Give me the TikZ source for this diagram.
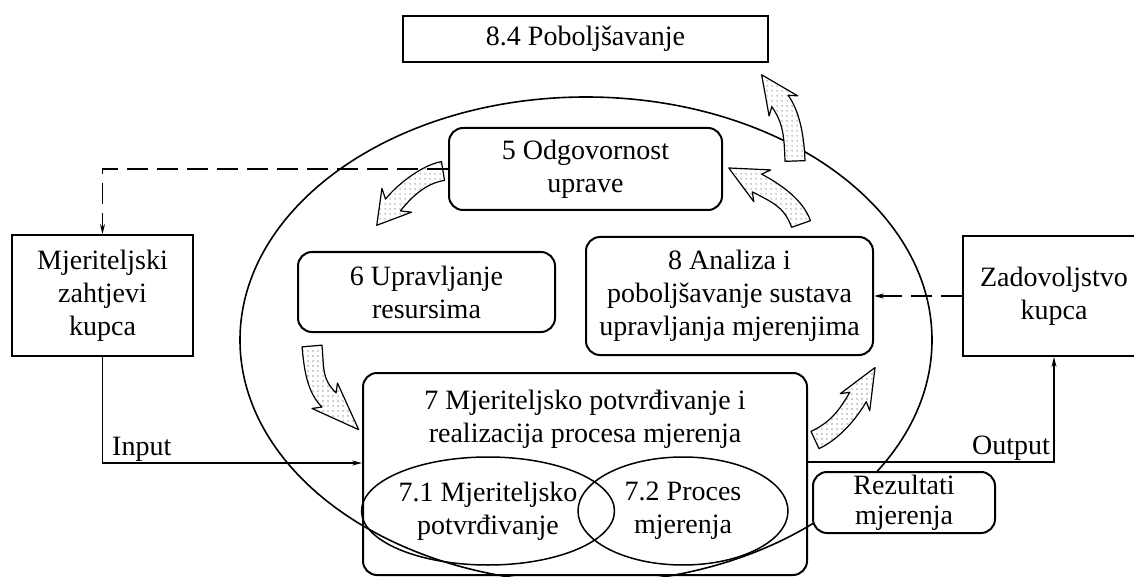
\documentclass[tikz,border=0pt]{standalone}
\usepackage{fontspec}
\setmainfont{Liberation Serif}
\usetikzlibrary{calc,patterns.meta,shapes.geometric,arrows.meta}
\tikzdeclarepattern{
  name=sparsedots,
  type=uncolored,
  bottom left={(0pt,0pt)},
  top right={(4.5pt,4.5pt)},
  tile size={(4.5pt,4.5pt)},
  code={\fill (2.25pt,2.25pt) circle (0.65pt);}
}
\newcommand\arrsweep{6}
% #1 tail centre, #2 tail angle, #3 tail ctrl, #4 head base, #5 head angle, #6 head ctrl,
% #7 body half width, #8 head half width, #9 head length
\newcommand\blkarrow[9]{%
\draw[blockarrow]
 ($#1+(#2+90:#7)$) .. controls ($#1+(#2:#3)+(#2+90:#7)$) and ($#4+(#5+180:#6)+(#5+90:#7)$) .. ($#4+(#5+90:#7)$)
 -- ($#4+(#5+90:#8)+(#5+180:\arrsweep)$) -- ($#4+(#5:#9)$) -- ($#4+(#5-90:#8)+(#5+180:\arrsweep)$)
 -- ($#4+(#5-90:#7)$) .. controls ($#4+(#5+180:#6)+(#5-90:#7)$) and ($#1+(#2:#3)+(#2-90:#7)$) .. ($#1+(#2-90:#7)$)
 -- cycle;}
\tikzset{
 txt/.style={font=\fontsize{28}{33}\selectfont, align=center, inner sep=0pt},
 sqbox/.style={txt, draw, line width=2pt},
 rbox/.style={txt, draw, line width=2pt, rounded corners=14pt},
 oval/.style={txt, draw, ellipse, line width=1.5pt},
 conn/.style={line width=1.2pt, -{Stealth[length=10pt,width=5pt]}},
 dconn/.style={conn, dash pattern=on 21pt off 9pt},
 blockarrow/.style={draw, line width=1.2pt, line join=round, preaction={fill=white}, pattern=sparsedots, pattern color=black!80},
}
\begin{document}
\begin{tikzpicture}[x=1pt,y=-1pt]
\clip (0,0) rectangle (1134,577);
\fill[white] (0,0) rectangle (1134,577);

% big cycle ellipse
\node[draw, ellipse, line width=1.6pt, minimum width=692pt, minimum height=486pt, inner sep=0pt] (loop) at (586,340) {};

% boxes
\node[sqbox, minimum width=365pt, minimum height=46pt] (b84) at (585.5,39) {8.4 Poboljšavanje};
\node[rbox, minimum width=273pt, minimum height=82pt] (b5) at (585.5,169) {5 Odgovornost\\uprave};
\node[rbox, minimum width=257pt, minimum height=80pt] (b6) at (426.5,292) {6 Upravljanje\\resursima};
\node[rbox, minimum width=287pt, minimum height=118pt] (b8) at (729.5,296) {8 Analiza i\\poboljšavanje sustava\\upravljanja mjerenjima};
\node[rbox, minimum width=444pt, minimum height=202pt] (b7) at (585,474) {};
\node[txt] (t7) at (585,419) {7 Mjeriteljsko potvrđivanje i\\realizacija procesa mjerenja};
\node[oval, minimum width=210pt, minimum height=108pt] (e71) at (488,511) {7.1 Mjeriteljsko\\potvrđivanje};
\node[oval, minimum width=210pt, minimum height=108pt] (e72) at (683,511) {7.2 Proces\\mjerenja};
\node[rbox, fill=white, font=\fontsize{28}{30}\selectfont, minimum width=182pt, minimum height=61pt] (rez) at (904,502.5) {Rezultati\\mjerenja};
\node[sqbox, minimum width=181pt, minimum height=121pt] (mj) at (102.5,295.5) {Mjeriteljski\\zahtjevi\\kupca};
\node[sqbox, minimum width=182pt, minimum height=120pt] (zad) at (1054,296) {Zadovoljstvo\\kupca};

% curved block arrows
\blkarrow{(443,171)}{170.6}{18}{(393,205)}{128.7}{21}{9.5}{19}{26}
\blkarrow{(312,346)}{85}{25}{(329,400)}{45}{20}{10}{18}{42}
\blkarrow{(815,440)}{-25}{22}{(858,397)}{-60}{20}{9.5}{17}{34}
\blkarrow{(801,224)}{250.7}{22}{(757,183)}{208}{22}{10}{18}{32}
\blkarrow{(795,161)}{268}{25}{(780,101)}{235}{20}{10}{17.5}{32}

% connectors
\draw[dconn] (b5.west) -| (mj.north);
\draw[dconn] (zad.west) -- (b8.east);
\draw[conn] (mj.south) |- ([yshift=11pt]b7.west);
\draw[conn] ([yshift=12pt]b7.east) -| (zad.south);
\node[txt, anchor=south west] (lin) at (112,462) {Input};
\node[txt, anchor=south east] (lout) at (1050,461) {Output};
\end{tikzpicture}
\end{document}
